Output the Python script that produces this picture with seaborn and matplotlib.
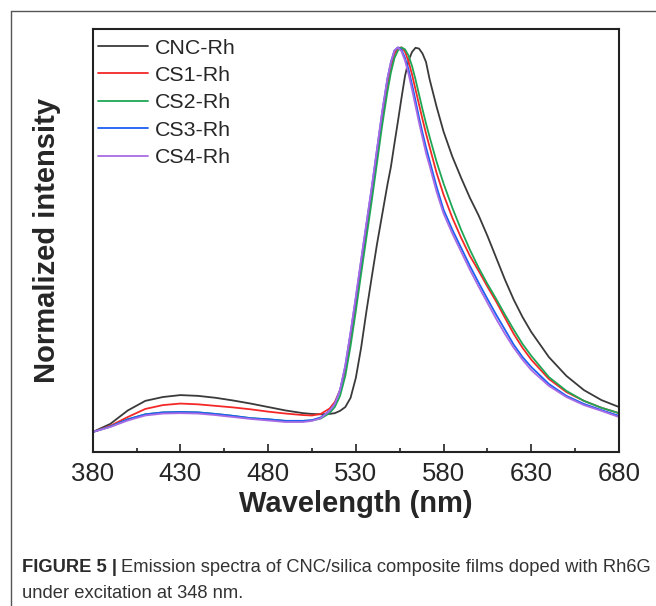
import matplotlib
matplotlib.use('Agg')
import matplotlib.pyplot as plt
from matplotlib.lines import Line2D
from matplotlib.ticker import FixedLocator
import pandas as pd
import seaborn as sns


wavelength = [380, 390, 400, 410, 420, 430, 440, 450, 460, 470, 480, 490, 500, 505,
              510, 515, 518, 521, 524, 527, 530, 533, 536, 539, 542, 545, 548,
              550, 552, 554, 556, 558, 560, 562, 564, 566, 568, 570, 572,
              576, 580, 585, 590, 595, 600, 605, 610, 615, 620, 625, 630,
              640, 650, 660, 670, 680]

cnc_rh = [0.000, 0.021, 0.056, 0.081, 0.091, 0.096, 0.094, 0.089, 0.082, 0.074, 0.065,
          0.056, 0.049, 0.047, 0.046, 0.047, 0.049, 0.055, 0.065, 0.089, 0.141, 0.219,
          0.313, 0.401, 0.487, 0.565, 0.643,
          0.690, 0.750, 0.808, 0.868, 0.925, 0.965, 0.988, 0.999, 0.997, 0.984, 0.962, 0.918,
          0.846, 0.781, 0.716, 0.661, 0.609, 0.563, 0.510, 0.453, 0.396, 0.344, 0.299, 0.260,
          0.195, 0.146, 0.109, 0.083, 0.065]
cs1_rh = [0.000, 0.016, 0.039, 0.060, 0.070, 0.074, 0.072, 0.068, 0.064, 0.059, 0.053,
          0.048, 0.044, 0.043, 0.047, 0.061, 0.078, 0.109, 0.161, 0.240, 0.331, 0.427,
          0.521, 0.615, 0.714, 0.813, 0.901,
          0.950, 0.983, 0.998, 1.000, 0.989, 0.964, 0.930, 0.891, 0.852, 0.813, 0.776, 0.742,
          0.674, 0.617, 0.557, 0.505, 0.458, 0.419, 0.378, 0.339, 0.297, 0.255, 0.219, 0.188,
          0.138, 0.104, 0.081, 0.063, 0.049]
cs2_rh = [0.000, 0.014, 0.033, 0.046, 0.051, 0.052, 0.051, 0.047, 0.042, 0.036, 0.033,
          0.029, 0.029, 0.030, 0.035, 0.049, 0.065, 0.094, 0.146, 0.224, 0.315, 0.411,
          0.505, 0.599, 0.698, 0.797, 0.885,
          0.935, 0.972, 0.992, 1.000, 0.995, 0.979, 0.952, 0.917, 0.878, 0.839, 0.802, 0.768,
          0.703, 0.646, 0.583, 0.526, 0.474, 0.427, 0.385, 0.346, 0.305, 0.266, 0.229, 0.198,
          0.143, 0.107, 0.081, 0.063, 0.049]
cs3_rh = [0.000, 0.014, 0.033, 0.046, 0.051, 0.052, 0.051, 0.047, 0.042, 0.036, 0.033,
          0.029, 0.029, 0.031, 0.038, 0.055, 0.073, 0.109, 0.172, 0.258, 0.349, 0.445,
          0.539, 0.633, 0.732, 0.831, 0.919,
          0.962, 0.992, 1.000, 0.994, 0.973, 0.943, 0.904, 0.862, 0.818, 0.778, 0.740, 0.706,
          0.638, 0.578, 0.526, 0.479, 0.432, 0.388, 0.346, 0.305, 0.266, 0.227, 0.195, 0.169,
          0.125, 0.094, 0.073, 0.057, 0.042]
cs4_rh = [0.000, 0.013, 0.030, 0.043, 0.048, 0.049, 0.048, 0.044, 0.039, 0.034, 0.030,
          0.026, 0.026, 0.029, 0.036, 0.055, 0.073, 0.109, 0.174, 0.260, 0.352, 0.448,
          0.542, 0.635, 0.734, 0.833, 0.919,
          0.962, 0.992, 1.000, 0.990, 0.966, 0.932, 0.891, 0.848, 0.805, 0.765, 0.725, 0.693,
          0.625, 0.568, 0.516, 0.469, 0.422, 0.378, 0.336, 0.294, 0.255, 0.219, 0.188, 0.161,
          0.120, 0.091, 0.070, 0.055, 0.039]

samples = ['CNC-Rh', 'CS1-Rh', 'CS2-Rh', 'CS3-Rh', 'CS4-Rh']
line_colors = ['#3a3a3a', '#f52828', '#1fa656', '#1c5ff2', '#a86be3']
major_ticks = [380, 430, 480, 530, 580, 630, 680]
minor_ticks = [405, 455, 505, 555, 605, 655]

sns.set_theme(style='white')
plt.rcParams['font.family'] = ['Liberation Sans', 'DejaVu Sans']

df = pd.DataFrame({'Wavelength': wavelength, 'CNC-Rh': cnc_rh, 'CS1-Rh': cs1_rh,
                   'CS2-Rh': cs2_rh, 'CS3-Rh': cs3_rh, 'CS4-Rh': cs4_rh})
long_df = df.melt(id_vars='Wavelength', var_name='sample', value_name='intensity')

fig = plt.figure(figsize=(6.56, 6.06), dpi=100)
ax = fig.add_axes([0.1413, 0.2541, 0.8023, 0.6975])
sns.lineplot(data=long_df, x='Wavelength', y='intensity', hue='sample',
             hue_order=samples, palette=dict(zip(samples, line_colors)),
             estimator=None, linewidth=1.3, legend=False, ax=ax)

ax.set_xlim(380, 680)
ax.set_ylim(-0.052, 1.047)
ax.xaxis.set_major_locator(FixedLocator(major_ticks))
ax.xaxis.set_minor_locator(FixedLocator(minor_ticks))
ax.set_yticks([])
ax.tick_params(axis='x', which='major', direction='in', length=6, width=1.2,
               color='#222222', labelsize=18.5, pad=7, bottom=True)
ax.tick_params(axis='x', which='minor', direction='in', length=3, width=1.2,
               color='#222222', bottom=True)
for s in ax.spines.values():
    s.set_linewidth(1.5)
    s.set_color('#222222')

ax.set_xlabel('Wavelength (nm)', fontsize=21, fontweight='bold', labelpad=3)
ax.set_ylabel('Normalized intensity', fontsize=21, fontweight='bold', labelpad=23)

handles = [Line2D([], [], color=c, lw=1.3) for c in line_colors]
ax.legend(handles, samples, loc='upper left', bbox_to_anchor=(0.011, 0.978),
          frameon=False, fontsize=15.4, handlelength=2.3, handletextpad=0.35,
          labelspacing=0.39, borderaxespad=0.0, borderpad=0.0)

# outer frame of the figure panel
fig.add_artist(Line2D([10.7 / 656, 10.7 / 656], [1 - 10.7 / 606, 0], color='#555555', lw=1.0))
fig.add_artist(Line2D([10.7 / 656, 1], [1 - 10.7 / 606, 1 - 10.7 / 606], color='#555555', lw=1.0))

# caption
cap_size = 13.2
t1 = fig.text(22 / 656, 1 - 567 / 606, 'FIGURE 5 |', fontsize=cap_size, fontweight='bold',
              color='#2b2b2b', va='center')
fig.canvas.draw()
bb = t1.get_window_extent()
fig.text((bb.x1 + 4) / 656, 1 - 567 / 606,
         'Emission spectra of CNC/silica composite films doped with Rh6G',
         fontsize=cap_size, color='#333333', va='center')
fig.text(22 / 656, 1 - 593 / 606, 'under excitation at 348 nm.', fontsize=cap_size,
         color='#333333', va='center')

fig.savefig('out.png', dpi=100)
